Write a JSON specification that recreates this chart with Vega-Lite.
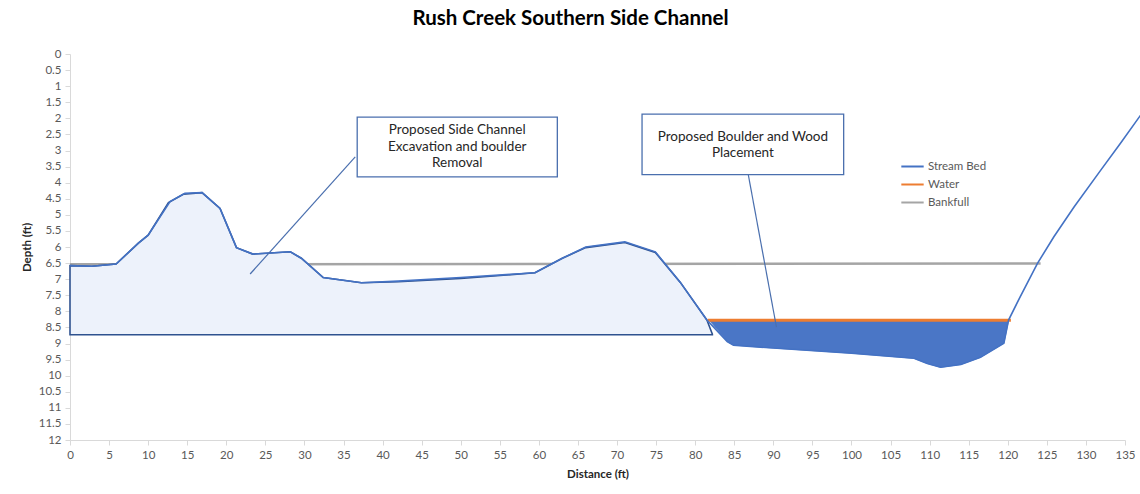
{
  "$schema": "https://vega.github.io/schema/vega-lite/v6.json",
  "width": 1055,
  "height": 386,
  "autosize": "none",
  "padding": {"left": 70, "top": 54, "right": 15, "bottom": 54},
  "background": "white",
  "config": {
    "view": {"stroke": null},
    "font": "Lato",
    "axis": {
      "grid": false,
      "domainColor": "#d9d9d9",
      "tickColor": "#d9d9d9",
      "tickSize": 5,
      "labelColor": "#595959",
      "labelFontSize": 11.5,
      "labelPadding": 4,
      "titleFontSize": 11.5,
      "titleFontWeight": "bold",
      "titleColor": "#262626",
      "labelFlush": false,
      "labelOverlap": false
    }
  },
  "title": {
    "text": "Rush Creek Southern Side Channel",
    "fontSize": 20.5,
    "fontWeight": "bold",
    "color": "#000000",
    "anchor": "middle",
    "dx": -27,
    "offset": 19
  },
  "datasets": {
    "bed": [
      {"x": 0, "depth": 6.58},
      {"x": 2.8, "depth": 6.6},
      {"x": 5.9, "depth": 6.53},
      {"x": 8.75, "depth": 5.88},
      {"x": 10, "depth": 5.63},
      {"x": 12.8, "depth": 4.59},
      {"x": 14.7, "depth": 4.33},
      {"x": 16.9, "depth": 4.31},
      {"x": 19.2, "depth": 4.8},
      {"x": 21.3, "depth": 6.02},
      {"x": 23.4, "depth": 6.22},
      {"x": 28.2, "depth": 6.15},
      {"x": 29.6, "depth": 6.35},
      {"x": 32.4, "depth": 6.95},
      {"x": 37.3, "depth": 7.11},
      {"x": 42, "depth": 7.06},
      {"x": 50, "depth": 6.95},
      {"x": 59.5, "depth": 6.8},
      {"x": 63, "depth": 6.35},
      {"x": 66, "depth": 6.0},
      {"x": 71, "depth": 5.84},
      {"x": 74.9, "depth": 6.15},
      {"x": 78.1, "depth": 7.1},
      {"x": 81.5, "depth": 8.27},
      {"x": 84.1, "depth": 8.94},
      {"x": 84.9, "depth": 9.05},
      {"x": 90, "depth": 9.14},
      {"x": 100, "depth": 9.3},
      {"x": 108, "depth": 9.46},
      {"x": 109.7, "depth": 9.62},
      {"x": 111.4, "depth": 9.74},
      {"x": 114, "depth": 9.65},
      {"x": 116.5, "depth": 9.43},
      {"x": 119.5, "depth": 8.99},
      {"x": 120.1, "depth": 8.27},
      {"x": 121.6, "depth": 7.54},
      {"x": 123.8, "depth": 6.51},
      {"x": 125.9, "depth": 5.68},
      {"x": 128.5, "depth": 4.75},
      {"x": 131.9, "depth": 3.61},
      {"x": 134.4, "depth": 2.78},
      {"x": 137, "depth": 1.9}
    ],
    "excavation": [
      {"x": 0, "depth": 6.58, "base": 8.73},
      {"x": 2.8, "depth": 6.6, "base": 8.73},
      {"x": 5.9, "depth": 6.53, "base": 8.73},
      {"x": 8.75, "depth": 5.88, "base": 8.73},
      {"x": 10, "depth": 5.63, "base": 8.73},
      {"x": 12.6, "depth": 4.62, "base": 8.73},
      {"x": 14.5, "depth": 4.36, "base": 8.73},
      {"x": 16.9, "depth": 4.31, "base": 8.73},
      {"x": 19.2, "depth": 4.8, "base": 8.73},
      {"x": 21.3, "depth": 6.02, "base": 8.73},
      {"x": 23.4, "depth": 6.22, "base": 8.73},
      {"x": 28.2, "depth": 6.15, "base": 8.73},
      {"x": 29.6, "depth": 6.35, "base": 8.73},
      {"x": 32.4, "depth": 6.95, "base": 8.73},
      {"x": 37.3, "depth": 7.11, "base": 8.73},
      {"x": 42, "depth": 7.08, "base": 8.73},
      {"x": 50, "depth": 6.98, "base": 8.73},
      {"x": 59.5, "depth": 6.8, "base": 8.73},
      {"x": 63, "depth": 6.35, "base": 8.73},
      {"x": 66, "depth": 6.02, "base": 8.73},
      {"x": 71, "depth": 5.86, "base": 8.73},
      {"x": 74.9, "depth": 6.17, "base": 8.73},
      {"x": 78.1, "depth": 7.1, "base": 8.73},
      {"x": 81.5, "depth": 8.27, "base": 8.73},
      {"x": 82.2, "depth": 8.71, "base": 8.73}
    ],
    "water": [
      {"x": 81.9, "depth": 8.3, "base": 8.28},
      {"x": 84.1, "depth": 8.94, "base": 8.28},
      {"x": 84.9, "depth": 9.05, "base": 8.28},
      {"x": 90, "depth": 9.14, "base": 8.28},
      {"x": 100, "depth": 9.3, "base": 8.28},
      {"x": 108, "depth": 9.46, "base": 8.28},
      {"x": 109.7, "depth": 9.62, "base": 8.28},
      {"x": 111.4, "depth": 9.74, "base": 8.28},
      {"x": 114, "depth": 9.65, "base": 8.28},
      {"x": 116.5, "depth": 9.43, "base": 8.28},
      {"x": 119.5, "depth": 8.99, "base": 8.28},
      {"x": 120.1, "depth": 8.28, "base": 8.28}
    ],
    "waterline": [
      {"x": 81.6, "depth": 8.28},
      {"x": 120.4, "depth": 8.28}
    ],
    "bankfull": [
      {"x": 0, "depth": 6.54},
      {"x": 124.2, "depth": 6.51}
    ],
    "boxes": [
      {"x": 36.75, "x2": 62.36, "depth": 1.96, "depth2": 3.82},
      {"x": 73.2, "x2": 99.0, "depth": 1.87, "depth2": 3.75}
    ],
    "notes": [
      {"x": 49.55, "depth": 2.36, "label": "Proposed Side Channel"},
      {"x": 49.55, "depth": 2.88, "label": "Excavation and boulder"},
      {"x": 49.55, "depth": 3.4, "label": "Removal"},
      {"x": 86.1, "depth": 2.57, "label": "Proposed Boulder and Wood"},
      {"x": 86.1, "depth": 3.09, "label": "Placement"}
    ],
    "leaders": [
      {"x": 36.5, "depth": 3.2, "x2": 23.05, "depth2": 6.84},
      {"x": 86.8, "depth": 3.76, "x2": 90.4, "depth2": 8.49}
    ]
  },
  "encoding": {
    "x": {
      "field": "x",
      "type": "quantitative",
      "scale": {"domain": [0, 135], "nice": false, "zero": false},
      "axis": {
        "title": "Distance (ft)",
        "values": [0, 5, 10, 15, 20, 25, 30, 35, 40, 45, 50, 55, 60, 65, 70, 75, 80, 85, 90, 95, 100, 105, 110, 115, 120, 125, 130, 135],
        "titlePadding": 8
      }
    },
    "y": {
      "field": "depth",
      "type": "quantitative",
      "scale": {"domain": [0, 12], "reverse": true, "nice": false, "zero": false},
      "axis": {
        "title": "Depth (ft)",
        "values": [0, 0.5, 1, 1.5, 2, 2.5, 3, 3.5, 4, 4.5, 5, 5.5, 6, 6.5, 7, 7.5, 8, 8.5, 9, 9.5, 10, 10.5, 11, 11.5, 12],
        "format": ".1~f",
        "titlePadding": 6
      }
    }
  },
  "layer": [
    {
      "data": {"name": "bankfull"},
      "mark": {"type": "line", "strokeWidth": 2.5},
      "encoding": {
        "color": {
          "datum": "Bankfull",
          "type": "nominal",
          "scale": {"domain": ["Stream Bed", "Water", "Bankfull"], "range": ["#4472c4", "#ed7d31", "#a5a5a5"]},
          "legend": {
            "orient": "none",
            "legendX": 830,
            "legendY": 100,
            "title": null,
            "symbolType": "stroke",
            "symbolSize": 500,
            "symbolStrokeWidth": 2,
            "labelFontSize": 11.5,
            "labelColor": "#595959",
            "rowPadding": 0,
            "labelOffset": 3
          }
        }
      }
    },
    {
      "data": {"name": "excavation"},
      "mark": {"type": "area", "fill": "#edf2fb", "stroke": "#2f528f", "strokeWidth": 1.6},
      "encoding": {
        "y2": {"field": "base"}
      }
    },
    {
      "data": {"name": "water"},
      "mark": {"type": "area", "fill": "#4a76c6", "stroke": "#5a7fc0", "strokeWidth": 1},
      "encoding": {
        "y2": {"field": "base"}
      }
    },
    {
      "data": {"name": "waterline"},
      "mark": {"type": "line", "strokeWidth": 3},
      "encoding": {
        "color": {"datum": "Water", "type": "nominal"}
      }
    },
    {
      "data": {"name": "bed"},
      "mark": {"type": "line", "strokeWidth": 1.6},
      "encoding": {
        "color": {"datum": "Stream Bed", "type": "nominal"}
      }
    },
    {
      "data": {"name": "leaders"},
      "mark": {"type": "rule", "color": "#4a6fae", "strokeWidth": 1.2},
      "encoding": {
        "x2": {"field": "x2"},
        "y2": {"field": "depth2"}
      }
    },
    {
      "data": {"name": "boxes"},
      "mark": {"type": "rect", "fill": "white", "stroke": "#4a6fae", "strokeWidth": 1.3},
      "encoding": {
        "x2": {"field": "x2"},
        "y2": {"field": "depth2"}
      }
    },
    {
      "data": {"name": "notes"},
      "mark": {"type": "text", "fontSize": 13.5, "color": "#262626", "align": "center", "baseline": "middle"},
      "encoding": {
        "text": {"field": "label"}
      }
    }
  ]
}
